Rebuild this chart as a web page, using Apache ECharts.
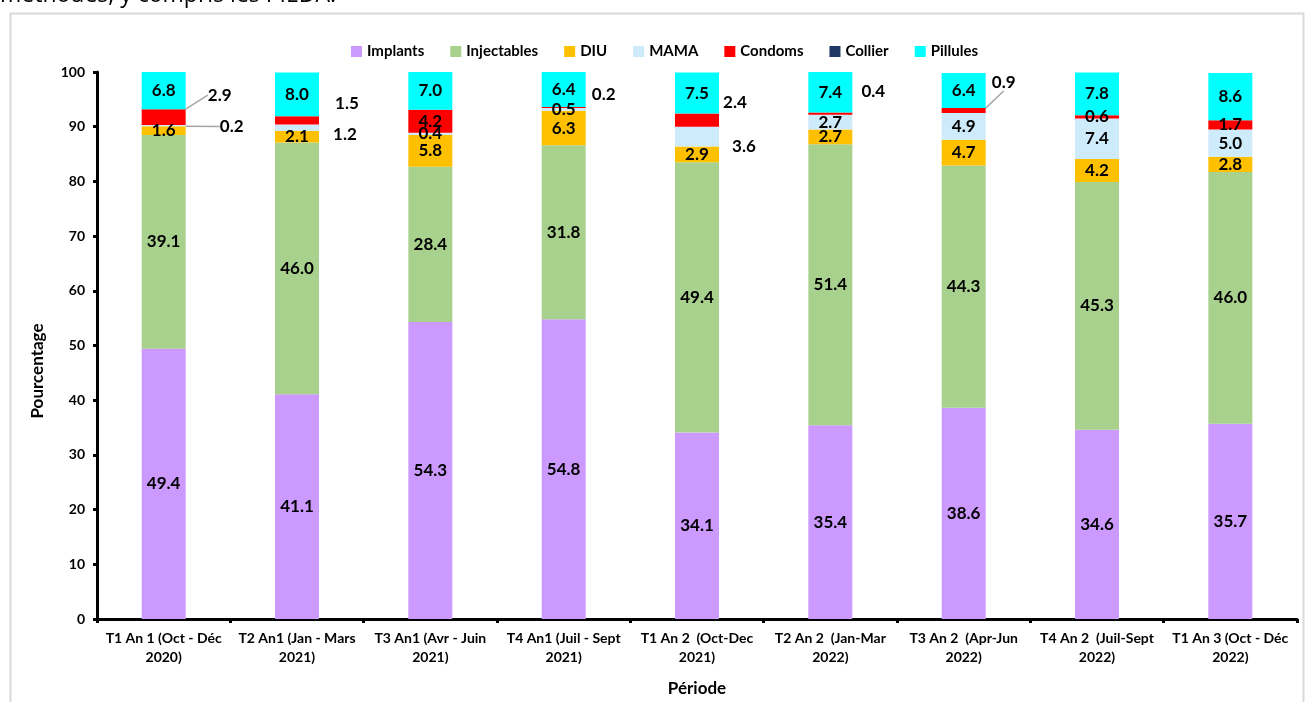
<!DOCTYPE html>
<html>
<head>
<meta charset="utf-8">
<script src="https://cdn.jsdelivr.net/npm/echarts@6/dist/echarts.min.js"></script>
<style>
  html, body { margin: 0; padding: 0; background: #ffffff; }
  #chart { width: 1306px; height: 702px; }
</style>
</head>
<body>
<div id="chart"></div>
<script>
// Périodes (axe des abscisses)
const periodes = [
  'T1 An 1 (Oct - Déc\n2020)',
  'T2 An1 (Jan - Mars\n2021)',
  'T3 An1 (Avr - Juin\n2021)',
  'T4 An1 (Juil - Sept\n2021)',
  'T1 An 2  (Oct-Dec\n2021)',
  'T2 An 2  (Jan-Mar\n2022)',
  'T3 An 2  (Apr-Jun\n2022)',
  'T4 An 2  (Juil-Sept\n2022)',
  'T1 An 3 (Oct - Déc\n2022)'
];

// Répartition (%) par méthode
const implants    = [49.4, 41.1, 54.3, 54.8, 34.1, 35.4, 38.6, 34.6, 35.7];
const injectables = [39.1, 46.0, 28.4, 31.8, 49.4, 51.4, 44.3, 45.3, 46.0];
const diu         = [1.6, 2.1, 5.8, 6.3, 2.9, 2.7, 4.7, 4.2, 2.8];
const mama        = [0.2, 1.2, 0.4, 0.5, 3.6, 2.7, 4.9, 7.4, 5.0];
const condoms     = [2.9, 1.5, 4.2, 0.2, 2.4, 0.4, 0.9, 0.6, 1.7];
const collier     = [0, 0, 0, 0, 0, 0, 0, 0, 0];
const pillules    = [6.8, 8.0, 7.0, 6.4, 7.5, 7.4, 6.4, 7.8, 8.6];

const yTicks = { min: 0, max: 100, interval: 10 };

// Étiquettes déportées à droite de la barre : [dx depuis le bord droit, dy depuis le milieu du segment, trait de rappel]
const deportees = {
  'MAMA':    { 0: [46, 1, true], 1: [26, 7, false], 4: [25, 10, false] },
  'Condoms': { 0: [34, -22, true], 1: [28, -17, false], 3: [18, -13, false],
               4: [16, -18, false], 5: [21, -22, false], 6: [18, -28, true] }
};

const FONT = 'Lato';
const WEIGHT = 'bold';

const series = [
  ['Implants', implants, '#CC99FF'],
  ['Injectables', injectables, '#A9D18E'],
  ['DIU', diu, '#FFC000'],
  ['MAMA', mama, '#CDEBFB'],
  ['Condoms', condoms, '#FF0000'],
  ['Collier', collier, '#203864'],
  ['Pillules', pillules, '#00FFFF']
].map(function (s) {
  const nom = s[0];
  const dep = deportees[nom] || {};
  return {
    name: nom,
    type: 'bar',
    stack: 'total',
    barWidth: 44,
    itemStyle: { color: s[2] },
    data: s[1].map(function (v, i) {
      const item = { value: v };
      if (v === 0) item.label = { show: false };
      if (dep[i]) item.labelLine = { show: dep[i][2] };
      return item;
    }),
    label: {
      show: true,
      position: 'inside',
      color: '#000000',
      fontFamily: FONT,
      fontWeight: WEIGHT,
      fontSize: 17,
      formatter: function (p) { return p.value.toFixed(1); }
    },
    labelLine: {
      show: false,
      lineStyle: { color: '#A6A6A6', width: 1.5 }
    },
    labelLayout: function (p) {
      const d = dep[p.dataIndex];
      if (!d) return {};
      return {
        x: p.rect.x + p.rect.width + d[0],
        y: p.rect.y + p.rect.height / 2 + d[1],
        align: 'center',
        verticalAlign: 'middle'
      };
    }
  };
});

const chart = echarts.init(document.getElementById('chart'), null, { renderer: 'canvas' });

chart.setOption({
  animation: false,
  backgroundColor: '#ffffff',
  textStyle: { fontFamily: FONT, color: '#000000' },
  legend: {
    top: 39,
    left: 346,
    itemWidth: 11,
    itemHeight: 11,
    itemGap: 26,
    icon: 'rect',
    textStyle: { fontFamily: FONT, fontWeight: WEIGHT, fontSize: 15, color: '#000000' }
  },
  grid: { left: 97, right: 9, top: 72, bottom: 82, containLabel: false },
  xAxis: {
    type: 'category',
    data: periodes,
    name: 'Période',
    nameLocation: 'middle',
    nameGap: 61,
    nameTextStyle: { fontFamily: FONT, fontWeight: WEIGHT, fontSize: 17, color: '#000000' },
    axisLine: { lineStyle: { color: '#000000', width: 3 } },
    axisTick: { show: true, length: 4, lineStyle: { color: '#000000', width: 3 } },
    axisLabel: {
      interval: 0,
      margin: 10,
      lineHeight: 19,
      fontFamily: FONT,
      fontWeight: WEIGHT,
      fontSize: 14,
      color: '#000000'
    }
  },
  yAxis: {
    type: 'value',
    min: yTicks.min,
    max: yTicks.max,
    interval: yTicks.interval,
    axisLine: { show: true, lineStyle: { color: '#000000', width: 3 } },
    axisTick: { show: true, length: 4, lineStyle: { color: '#000000', width: 3 } },
    splitLine: { show: false },
    axisLabel: {
      margin: 12,
      fontFamily: FONT,
      fontWeight: WEIGHT,
      fontSize: 14,
      color: '#000000'
    }
  },
  graphic: [
    {
      type: 'rect',
      shape: { x: 10.5, y: 13.5, width: 1293, height: 720 },
      style: { fill: 'none', stroke: '#D9D9D9', lineWidth: 2 },
      silent: true
    },
    {
      type: 'text',
      left: 0,
      top: -16,
      style: {
        text: 'méthodes, y compris les PIEDA.',
        fontFamily: 'Open Sans',
        fontSize: 23,
        fill: '#000000'
      }
    },
    {
      type: 'text',
      x: 38,
      y: 371,
      rotation: Math.PI / 2,
      style: {
        text: 'Pourcentage',
        fontFamily: FONT,
        fontWeight: WEIGHT,
        fontSize: 17,
        fill: '#000000',
        align: 'center',
        verticalAlign: 'middle'
      }
    }
  ],
  series: series
});
</script>
</body>
</html>
